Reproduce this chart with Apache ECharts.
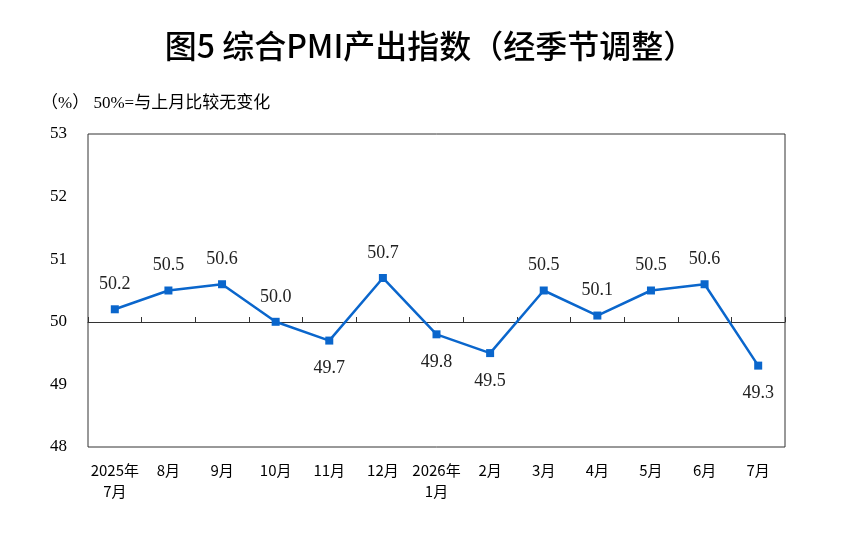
<!DOCTYPE html>
<html>
<head>
<meta charset="utf-8">
<script src="https://cdn.jsdelivr.net/npm/echarts@6/dist/echarts.min.js"></script>
<style>
  html, body { margin: 0; padding: 0; background: #fff; }
  #chart { width: 860px; height: 534px; }
</style>
</head>
<body>
<div id="chart"></div>
<script>
var months = ['2025年\n7月', '8月', '9月', '10月', '11月', '12月', '2026年\n1月', '2月', '3月', '4月', '5月', '6月', '7月'];
var pmiValues = [50.2, 50.5, 50.6, 50.0, 49.7, 50.7, 49.8, 49.5, 50.5, 50.1, 50.5, 50.6, 49.3];
var belowLabels = [4, 6, 7, 12];

var serif = '"Liberation Serif", "Noto Sans CJK SC", serif';
var cjk = '"Noto Sans CJK SC", sans-serif';

var myChart = echarts.init(document.getElementById('chart'));

var seriesData = pmiValues.map(function (v, i) {
    var below = belowLabels.indexOf(i) >= 0;
    return {
        value: v,
        label: { position: below ? 'bottom' : 'top', distance: below ? 15 : 12 }
    };
});

var option = {
    backgroundColor: '#fff',
    animation: false,
    textStyle: { fontFamily: serif },
    title: [
        {
            text: '图5 综合PMI产出指数（经季节调整）',
            left: 'center',
            top: 25,
            textStyle: { fontFamily: cjk, fontSize: 32, fontWeight: 500, color: '#000' }
        },
        {
            text: '（%） 50%=与上月比较无变化',
            left: 36,
            top: 90,
            textStyle: { fontFamily: serif, fontSize: 17, fontWeight: 'normal', color: '#000' }
        }
    ],
    grid: {
        left: 88,
        right: 75,
        top: 134,
        bottom: 87,
        show: true,
        borderColor: '#333',
        borderWidth: 1
    },
    xAxis: [
        {
            type: 'category',
            data: months,
            boundaryGap: true,
            axisLine: { show: false },
            axisTick: { show: false },
            axisLabel: {
                interval: 0,
                margin: 13,
                fontFamily: cjk,
                fontSize: 15,
                lineHeight: 21,
                color: '#000'
            }
        },
        {
            type: 'category',
            data: months,
            position: 'bottom',
            offset: -125,
            boundaryGap: true,
            axisLine: { show: true, lineStyle: { color: '#333', width: 1 } },
            axisTick: { show: true, inside: true, length: 5, lineStyle: { color: '#333' } },
            axisLabel: { show: false }
        }
    ],
    yAxis: {
        type: 'value',
        min: 48,
        max: 53,
        interval: 1,
        axisLine: { show: false },
        axisTick: { show: false },
        splitLine: { show: false },
        axisLabel: {
            fontFamily: 'serif',
            fontSize: 17,
            color: '#000',
            margin: 21
        }
    },
    series: [
        {
            type: 'line',
            data: seriesData,
            symbol: 'rect',
            symbolSize: 8,
            lineStyle: { color: '#0a66cc', width: 2.5 },
            itemStyle: { color: '#0a66cc' },
            label: {
                show: true,
                fontFamily: serif,
                fontSize: 18,
                color: '#222',
                formatter: function (p) { return p.value.toFixed(1); }
            }
        }
    ]
};

myChart.setOption(option);
</script>
</body>
</html>
